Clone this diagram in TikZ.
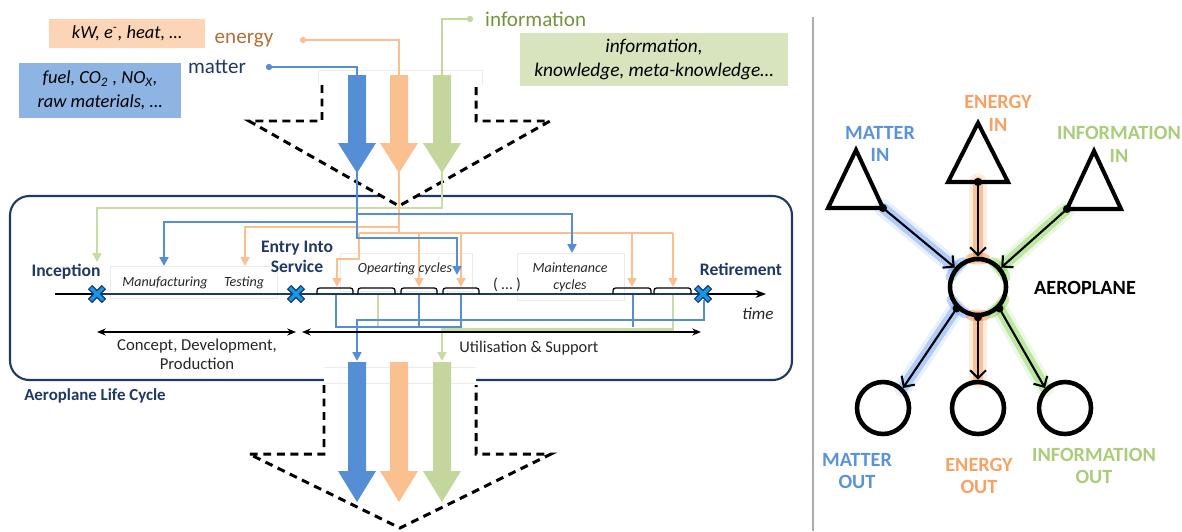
\documentclass[tikz,border=0pt]{standalone}
\usepackage{fontspec}
\setmainfont{Carlito}
\usetikzlibrary{arrows.meta}
\pgfdeclarelayer{bg}
\pgfsetlayers{bg,main}
\definecolor{navy}{RGB}{31,56,100}
\definecolor{cB}{RGB}{85,142,213}
\definecolor{cO}{RGB}{250,192,144}
\definecolor{cG}{RGB}{195,214,155}
\definecolor{cGl}{RGB}{200,220,165}
\definecolor{boxO}{RGB}{251,213,181}
\definecolor{boxB}{RGB}{142,180,227}
\definecolor{boxG}{RGB}{215,228,189}
\definecolor{txtE}{RGB}{184,108,52}
\definecolor{txtI}{RGB}{118,146,60}
\definecolor{xblue}{RGB}{20,150,235}
\definecolor{lblB}{RGB}{91,146,220}
\definecolor{lblO}{RGB}{246,162,100}
\definecolor{lblG}{RGB}{169,205,120}
\definecolor{glowB}{RGB}{110,160,245}
\definecolor{glowO}{RGB}{240,140,70}
\definecolor{glowG}{RGB}{130,210,80}
\definecolor{dtxt}{RGB}{38,38,38}
\newcommand{\flowarrow}[5]{%
  \fill[#5] (#1-9,#2) -- (#1+9,#2) -- (#1+9,#3) -- (#1+19,#3) -- (#1,#4) -- (#1-19,#3) -- (#1-9,#3) -- cycle;}
\newcommand{\xmark}[1]{%
  \draw[navy,line width=3.6pt] ([shift={(-7,-7)}]#1) -- ([shift={(7,7)}]#1) ([shift={(-7,7)}]#1) -- ([shift={(7,-7)}]#1);
  \draw[xblue,line width=2.0pt] ([shift={(-6.2,-6.2)}]#1) -- ([shift={(6.2,6.2)}]#1) ([shift={(-6.2,6.2)}]#1) -- ([shift={(6.2,-6.2)}]#1);}
\newcommand{\cyc}[2]{\draw[black,line width=0.7pt,rounded corners=1.5pt] (#1,294) -- (#1,288) -- (#2,288) -- (#2,294);}
\tikzset{
  dashln/.style={line width=1.7pt, dash pattern=on 4.5pt off 3.2pt},
  lnB/.style={draw=cB, line width=1.2pt},
  lnO/.style={draw=cO, line width=1.2pt},
  lnG/.style={draw=cGl, line width=1.2pt},
  tipc/.style={-{Triangle[length=5pt,width=5pt]}},
  feed/.style={line width=0.9pt},
  faint/.style={draw=gray!16, line width=0.4pt},
  phase/.style={navy, font=\bfseries\fontsize{10}{11.5}\selectfont, align=center},
  small/.style={font=\itshape\fontsize{8}{9.6}\selectfont, align=center, text=dtxt},
  circ/.style={circle, draw, line width=2.6pt, inner sep=0pt},
  conn/.style={black, line width=1.2pt, -{Straight Barb[length=4.5pt,width=9pt]}},
  glw/.style={line width=6pt, opacity=0.45, line cap=round},
  glw2/.style={line width=10pt, opacity=0.16, line cap=round},
  rlbl/.style={font=\bfseries\fontsize{11.5}{13}\selectfont, align=center},
}
\begin{document}
\begin{tikzpicture}[x=0.02cm,y=-0.02cm]
\useasboundingbox (0,0) rectangle (1182,531);

% ---------- life cycle box ----------
\draw[navy,line width=1.2pt,rounded corners=11pt] (10,196) rectangle (792,380);
\node[navy, font=\bfseries\fontsize{9.6}{11}\selectfont] (lcl) at (95,396) {Aeroplane Life Cycle};

% ---------- dashed big arrows ----------
\fill[white] (322,85) -- (322,121) -- (249,121) -- (399,206) -- (550,121) -- (476,121) -- (476,85) -- cycle;
\draw[dashln] (322,85) -- (322,121) -- (249,121) -- (399,206) -- (550,121) -- (476,121) -- (476,85);
\draw[faint] (318,85) -- (318,70) -- (482,70) -- (482,85);

\fill[white] (324,367) -- (476,367) -- (476,454) -- (551,454) -- (400,529) -- (249,454) -- (324,454) -- cycle;
\draw[faint] (324,367) -- (476,367) (324,383) -- (476,383);
\draw[dashln] (324,385) -- (324,454) -- (249,454) -- (400,528) -- (551,454) -- (476,454) -- (476,385);

% ---------- top labels ----------
\node[fill=boxO, minimum width=3.12cm, minimum height=0.58cm, font=\itshape\fontsize{10.5}{12}\selectfont] (kw) at (127,33.5) {kW, e\textsuperscript{-}, heat, …};
\node[fill=boxB, minimum width=3.24cm, minimum height=1.1cm, align=center, font=\itshape\fontsize{10.5}{13.5}\selectfont] (fuel) at (100,90.5) {fuel, CO\textsubscript{2} , NO\textsubscript{\itshape X},\\raw materials, …};
\node[fill=boxG, minimum width=5.36cm, minimum height=0.94cm, align=center, font=\itshape\fontsize{11}{13.5}\selectfont] (infobox) at (654,59.5) {information,\\knowledge, meta-knowledge…};

\node[txtE, font=\fontsize{12}{14}\selectfont] (enlbl) at (244,40) {energy};
\node[navy, font=\fontsize{12}{14}\selectfont] (matlbl) at (217,67) {matter};
\node[txtI, font=\fontsize{12}{14}\selectfont, anchor=west] (inflbl) at (479,19) {information};

\coordinate (eDot) at (303,40);
\coordinate (mDot) at (269,67);
\coordinate (iDot) at (470,19);
\coordinate (eTop) at (399,76);
\coordinate (mTop) at (357,76);
\coordinate (iTop) at (442,76);
\draw[cO,feed] (eDot) -| (eTop);
\draw[cB,feed] (mDot) -| (mTop);
\draw[cG,feed] (iDot) -| (iTop);
\fill[cO] (eDot) circle (1.8pt);
\fill[cB] (mDot) circle (1.8pt);
\fill[cG] (iDot) circle (1.8pt);

% ---------- flow arrows ----------
\flowarrow{357}{75}{143}{173}{cB}
\flowarrow{399}{75}{143}{173}{cO}
\flowarrow{442}{75}{143}{173}{cG}

\coordinate (bT) at (357,172);
\coordinate (oT) at (399,172);
\coordinate (gT) at (442,172);

% ---------- faint text frames ----------
\draw[faint] (110,266) rectangle (277,298);
\draw[faint] (340,253) rectangle (472,291);
\draw[faint] (517,253) rectangle (624,300);

% ---------- routing above the time line ----------
\coordinate (incA) at (97,262);
\coordinate (mfA) at (164,266);
\coordinate (tsA) at (245,266);
\coordinate (opA) at (457,275);
\coordinate (mnA) at (572,253);
\coordinate (oc1) at (337,287);
\coordinate (oc3) at (419,287);
\coordinate (oc4) at (461,287);
\coordinate (mc1) at (632,287);
\coordinate (mc2) at (673,287);

\draw[lnG,tipc] (gT) -- (442,208) -| (incA);
\draw[lnO] (oT) -- (399,233);
\draw[lnO] (359,233) -- (673,233);
\draw[lnO,tipc] (399,227) -| (tsA);
\draw[lnO,tipc] (359,233) -- (359,259) -| (oc1);
\draw[lnO,tipc] (419,233) -- (oc3);
\draw[lnO,tipc] (461,233) -- (oc4);
\draw[lnO,tipc] (632,233) -- (mc1);
\draw[lnO,tipc] (673,233) -- (mc2);
\draw[lnB,tipc] (bT) -- (357,238) -| (opA);
\draw[lnB,tipc] (357,222) -| (mfA);
\draw[lnB,tipc] (357,214) -| (mnA);

% ---------- routing below the time line ----------
\coordinate (bB) at (357,361);
\coordinate (gB) at (442,361);
\draw[lnB] (336,294) -- (336,327) -- (461,327) -- (461,294);
\draw[lnB] (419,294) -- (419,327);
\draw[lnB] (633,294) -- (633,327);
\draw[lnG] (378,294) -- (378,326);
\draw[lnG,tipc] (673,294) -- (673,329.5) -| (gB);
\draw[lnB,tipc] (704,300) -- (704,320) -| (bB);

% ---------- bottom flow arrows ----------
\flowarrow{357}{362}{471}{502}{cB}
\flowarrow{399}{362}{471}{502}{cO}
\flowarrow{442}{362}{471}{502}{cG}

% ---------- time line ----------
\coordinate (incX) at (97,294);
\coordinate (eisX) at (296,294);
\coordinate (retX) at (703,294);
\coordinate (tEnd) at (766,294);
\coordinate (tStart) at (55,294);
\draw[line width=0.6pt] (tStart) -- (incX);
\draw[navy,line width=1.3pt] (incX) -- (retX);
\draw[line width=0.6pt,-{Stealth[length=6pt,width=4.5pt]}] (retX) -- (tEnd);
\cyc{317}{353}\cyc{358}{395}\cyc{401}{437}\cyc{443}{479}
\cyc{613}{651}\cyc{654}{691}
\xmark{incX}
\xmark{eisX}
\xmark{retX}

% ---------- life cycle texts ----------
\node[phase] (inc) at (66,272) {Inception};
\node[phase] (eis) at (297,257) {Entry Into\\Service};
\node[phase] (ret) at (741,269) {Retirement};
\node[small] (manu) at (165,283) {Manufacturing};
\node[small] (test) at (244,283) {Testing};
\node[small] (opc) at (405,269) {Opearting cycles};
\node[font=\fontsize{9}{10}\selectfont, text=dtxt] (dots) at (507,285) {( … )};
\node[small] (mnt) at (570,277.5) {Maintenance\\cycles};
\node[font=\itshape\fontsize{9.7}{11}\selectfont, text=dtxt] (time) at (758,314) {time};

\coordinate (cdL) at (97,332);
\coordinate (cdR) at (296,332);
\coordinate (usL) at (302,332);
\coordinate (usR) at (701,332);
\draw[line width=0.7pt,{Stealth[length=5pt,width=4pt]}-{Stealth[length=5pt,width=4pt]}] (cdL) -- (cdR);
\draw[line width=0.7pt,{Stealth[length=5pt,width=4pt]}-{Stealth[length=5pt,width=4pt]}] (usL) -- (usR);
\node[font=\fontsize{9.5}{10.8}\selectfont, text=dtxt, align=center] (cdp) at (197,354.5) {Concept, Development,\\Production};
\node[font=\fontsize{9.3}{11}\selectfont, text=dtxt] (uas) at (529,348) {Utilisation \& Support};

% ---------- right panel ----------
\draw[gray!65, line width=0.8pt] (813,17) -- (813,531);

\draw[line width=2.3pt] (856,150) -- (828,208) -- (883,208) -- cycle;
\draw[line width=2.3pt] (978,123) -- (948,182) -- (1008,182) -- cycle;
\draw[line width=2.3pt] (1094,151) -- (1067,209) -- (1121,209) -- cycle;
\coordinate (mInD) at (883,208);
\coordinate (eInD) at (978,182);
\coordinate (iInD) at (1067,209);

\node[circ, minimum size=1.12cm] (aero) at (978,287) {};
\node[circ, minimum size=1.04cm] (mOut) at (883,408) {};
\node[circ, minimum size=1.04cm] (eOut) at (978,408) {};
\node[circ, minimum size=1.04cm] (iOut) at (1065,408) {};

\begin{pgfonlayer}{bg}
  \draw[glowB,glw2] (mInD) -- (aero.140);
  \draw[glowB,glw] (mInD) -- (aero.140);
  \draw[glowO,glw2] (eInD) -- (aero.north);
  \draw[glowO,glw] (eInD) -- (aero.north);
  \draw[glowG,glw2] (iInD) -- (aero.40);
  \draw[glowG,glw] (iInD) -- (aero.40);
  \draw[glowB,glw2] (aero.225) -- (mOut.45);
  \draw[glowB,glw] (aero.225) -- (mOut.45);
  \draw[glowO,glw2] (aero.south) -- (eOut.north);
  \draw[glowO,glw] (aero.south) -- (eOut.north);
  \draw[glowG,glw2] (aero.-45) -- (iOut.135);
  \draw[glowG,glw] (aero.-45) -- (iOut.135);
  \draw[glowB,glw] ([shift={(-122:29)}]aero.center) arc[start angle=-122,end angle=-160,radius=29];
  \draw[glowO,glw] ([shift={(-75:29)}]aero.center) arc[start angle=-75,end angle=-105,radius=29];
  \draw[glowG,glw] ([shift={(-20:29)}]aero.center) arc[start angle=-20,end angle=-58,radius=29];
  \draw[glowB,glw] ([shift={(-205:29)}]aero.center) arc[start angle=-205,end angle=-245,radius=29];
  \draw[glowO,glw] ([shift={(-255:29)}]aero.center) arc[start angle=-255,end angle=-285,radius=29];
  \draw[glowG,glw] ([shift={(-295:29)}]aero.center) arc[start angle=-295,end angle=-335,radius=29];
\end{pgfonlayer}

\draw[conn] (mInD) -- (aero.140);
\draw[conn] (eInD) -- (aero.north);
\draw[conn] (iInD) -- (aero.40);
\draw[conn] (aero.225) -- (mOut.45);
\draw[conn] (aero.south) -- (eOut.north);
\draw[conn] (aero.-45) -- (iOut.135);
\fill (mInD) circle (2.3pt);
\fill (eInD) circle (2.3pt);
\fill (iInD) circle (2.3pt);
\fill (aero.225) circle (2.3pt);
\fill (aero.south) circle (2.3pt);
\fill (aero.-45) circle (2.3pt);

\node[rlbl, lblB] (mInL) at (880,144) {MATTER\\IN};
\node[rlbl, lblO] (eInL) at (998,113) {ENERGY\\IN};
\node[rlbl, lblG] (iInL) at (1119,144) {INFORMATION\\IN};
\node[rlbl] (aeroL) at (1085,288) {AEROPLANE};
\node[rlbl, lblB] (mOutL) at (857,471) {MATTER\\OUT};
\node[rlbl, lblO] (eOutL) at (979,476) {ENERGY\\OUT};
\node[rlbl, lblG] (iOutL) at (1094,466) {INFORMATION\\OUT};
\end{tikzpicture}
\end{document}
